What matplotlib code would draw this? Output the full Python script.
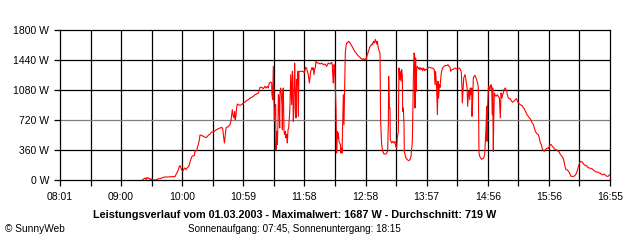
import matplotlib
matplotlib.use("Agg")
import matplotlib.pyplot as plt
import numpy as np

# time in minutes after midnight, power in W
t_min = [561.3, 562.6, 563.5, 564.5, 565.5, 566.4, 567.4, 568.4, 569.4, 570.3, 573.2, 574.8, 576.5, 578.1,
         579.7, 581.3, 583.0, 586.2, 589.4, 592.6, 593.6, 594.9, 595.9, 596.9, 597.5, 598.5, 599.1, 600.1,
         601.1, 601.7, 602.7, 603.3, 604.3, 605.0, 605.9, 606.6, 607.2, 607.9, 608.5, 609.2, 610.4, 611.4,
         611.7, 612.4, 613.7, 614.6, 615.3, 616.3,
         616.9, 618.5, 620.2, 621.8, 623.4, 625.0, 626.6, 628.3, 629.9, 631.5, 633.1, 634.7, 636.3, 638.0,
         639.0, 639.6, 640.6, 641.2, 642.2, 642.8, 644.4, 645.4, 646.1, 647.0, 647.7, 648.3, 649.0, 649.9,
         650.6, 651.2, 651.9, 652.5, 653.2, 654.1, 655.8, 657.4, 659.0, 660.6, 662.2, 663.9, 665.5, 667.1,
         668.7, 670.3, 672.0, 673.6,
         675.2, 676.8, 678.4, 680.0, 681.0, 682.3, 683.3, 684.2, 685.5, 686.5, 686.8, 687.5, 688.1, 688.5,
         689.1, 689.7, 690.4, 690.7, 691.4, 692.0, 692.7, 693.0, 693.6, 694.3, 694.6, 695.2, 695.9, 696.5,
         696.9, 697.2, 697.8, 698.5, 699.1, 699.8, 700.4, 701.1, 701.7, 702.4, 703.0, 703.7, 704.3, 705.0,
         705.3, 705.9, 706.6, 706.9, 707.5, 708.2, 708.8, 709.2, 709.8, 710.1, 710.8, 711.4, 711.7, 712.4,
         713.0, 715.6, 717.3, 718.2, 718.9, 719.5, 720.5, 721.1, 721.8, 722.4, 723.1, 723.7, 724.4, 725.0,
         725.7, 726.3, 727.0, 727.6, 728.3, 728.9, 729.5, 730.8, 732.1, 733.4,
         735.1, 736.7, 738.3, 739.9, 741.5, 743.2, 744.8, 745.4, 745.7, 746.4, 747.0, 747.7, 748.3, 749.0,
         749.3, 749.6, 750.3, 750.9, 751.2, 751.9, 752.5, 753.2, 753.8, 754.5, 754.8, 755.4, 756.1, 756.7,
         757.1, 757.4, 758.0, 758.7, 759.3, 760.0, 761.0, 761.9, 762.6, 763.5, 764.5, 765.8, 767.1, 768.4,
         769.7, 771.0, 772.3, 773.6, 774.9, 775.5, 776.5, 777.5, 778.4, 779.1, 780.0, 781.0, 782.0, 783.0,
         783.9, 784.6, 785.2, 786.2, 787.2, 788.5, 789.1, 790.1, 791.0,
         791.7, 792.3, 793.3, 794.3, 795.6, 797.5, 799.1, 799.8, 800.1, 800.8, 801.4, 801.7, 803.0, 804.0,
         805.3, 806.3, 806.9, 807.9, 808.5, 809.5, 810.1, 810.8, 811.4, 812.1, 812.7, 813.4, 813.7, 814.3,
         815.0, 815.3, 816.0, 816.9, 818.2, 819.5, 820.8, 821.8, 822.4, 823.1, 823.7, 824.1, 824.7, 825.3,
         825.7, 826.3, 826.6, 827.3, 827.9, 828.9, 829.9, 830.5, 831.5, 832.5, 833.1, 834.1, 835.1, 836.0,
         837.0, 838.0, 839.0, 840.2, 841.2, 842.2, 843.5, 844.4, 845.1, 845.7, 846.7, 847.4, 848.0, 848.6,
         849.3,
         850.0, 851.0, 851.9, 852.9, 853.8, 854.8, 855.8, 856.7, 857.7, 858.7, 859.7, 860.3, 861.3, 862.2,
         863.5, 864.8, 866.1, 867.7, 868.7, 870.0, 870.7, 871.3, 871.6, 872.3, 873.0, 873.6, 874.2, 874.9,
         875.5, 876.2, 876.8, 877.5, 878.1, 878.8, 879.4, 880.0, 880.7, 881.0, 881.7, 882.3, 883.0, 883.9,
         884.9, 885.5, 886.5, 887.2, 887.8, 888.5, 889.4, 890.4, 891.4, 892.3, 893.3, 894.0, 894.6, 895.3,
         895.6, 896.2, 896.9, 897.5, 898.2, 898.8, 899.5, 900.1, 900.8, 901.1, 901.7, 902.1, 902.7, 903.3,
         904.3, 905.6, 906.6, 907.6,
         908.5, 909.2, 910.1, 910.8, 911.4, 912.1, 913.1, 914.0, 914.7, 915.3, 916.3, 917.3, 918.2, 919.2,
         920.2, 921.1, 922.1, 923.1, 924.1, 925.0, 926.0, 927.0, 927.9, 928.9, 929.9, 930.9, 931.8, 932.8,
         933.8, 934.7, 935.7, 936.7, 937.6, 938.6, 939.6, 940.6, 941.5, 942.5, 943.5, 944.4, 945.4, 946.4,
         947.4, 948.3, 949.3, 950.3, 951.2, 952.2, 953.2, 954.1, 955.1, 956.1, 957.1, 958.0, 959.0, 960.0,
         960.9, 961.9, 962.9, 963.9, 964.8, 965.8,
         966.5, 967.4, 968.4, 969.4, 970.3, 971.3, 972.3, 973.2, 974.2, 975.2, 976.2, 977.1, 978.1, 979.1,
         980.0, 981.0, 982.0, 983.0, 983.9, 984.9, 985.9, 986.8, 987.8, 988.8, 989.8, 990.7, 991.7, 992.7,
         993.6, 994.6, 995.6, 996.5, 997.5, 998.5, 999.5, 1000.4, 1001.4, 1002.4, 1003.3, 1004.3, 1005.3,
         1006.3, 1007.2, 1008.2, 1009.2, 1010.1, 1011.1, 1012.1, 1013.1, 1014.0, 1015.0]

power_w = [4, 16, 24, 4, 32, 16, 24, 4, 16, 0, 0, 4, 16, 16,
           24, 32, 36, 36, 40, 40, 64, 96, 124, 164, 172, 144, 124, 104,
           124, 144, 136, 124, 144, 152, 164, 184, 216, 244, 264, 284, 292, 292,
           324, 352, 352, 404, 424, 484,
           540, 536, 524, 512, 512, 536, 552, 576, 576, 592, 604, 616, 624, 632,
           616, 544, 444, 504, 624, 632, 640, 656, 664, 712, 784, 844, 776, 744,
           824, 720, 776, 872, 912, 904, 896, 904, 924, 936, 952, 964, 984, 992,
           1004, 1024, 1032, 1044,
           1112, 1112, 1096, 1124, 1104, 1124, 1104, 1164, 1176, 1164, 1024, 964, 1364, 1104,
           724, 824, 904, 364, 584, 424, 704, 1024, 984, 624, 1044, 1104, 1024, 904,
           604, 1024, 1104, 584, 544, 584, 504, 544, 444, 604, 624, 744, 904, 1264,
           1144, 904, 1304, 1224, 704, 864, 1404, 1184, 944, 744, 1204, 1144, 1304, 764,
           1304, 1304, 1304, 1284, 1324, 1352, 1344, 1304, 1284, 1224, 1164, 1224, 1304, 1324,
           1352, 1324, 1344, 1264, 1336, 1344, 1424, 1404, 1404, 1392,
           1404, 1384, 1392, 1364, 1404, 1392, 1412, 1384, 1284, 1164, 1384, 1352, 1104, 844,
           584, 324, 584, 504, 564, 464, 444, 424, 324, 384, 324, 624, 1024, 664,
           944, 1184, 1524, 1604, 1644, 1644, 1664, 1656, 1644, 1624, 1604, 1576, 1544, 1524,
           1504, 1484, 1472, 1456, 1444, 1456, 1444, 1456, 1444, 1496, 1524, 1564, 1604, 1616,
           1632, 1624, 1664, 1644, 1687, 1632, 1664, 1584, 1540,
           1524, 704, 424, 344, 312, 312, 344, 664, 1244, 864, 864, 484, 444, 464,
           444, 464, 404, 384, 504, 584, 1344, 1204, 1304, 1184, 1324, 1244, 824, 864,
           664, 344, 304, 264, 244, 232, 244, 284, 364, 464, 904, 1224, 1524, 1504,
           864, 1464, 1064, 1324, 1364, 1344, 1324, 1352, 1324, 1344, 1312, 1344, 1312, 1328,
           1324, 1344, 1352, 1352, 1344, 1344, 1336, 1324, 1144, 1304, 1104, 784, 1184, 984,
           1144,
           1112, 1264, 1324, 1352, 1364, 1372, 1376, 1372, 1384, 1364, 1352, 1304, 1324, 1324,
           1336, 1344, 1332, 1336, 1344, 1324, 1284, 1104, 924, 1084, 1224, 1244, 1264, 1224,
           1164, 1104, 884, 1024, 1064, 964, 1104, 1024, 1104, 764, 984, 1224, 1244, 1256,
           1224, 1204, 1164, 1104, 324, 284, 264, 248, 256, 264, 304, 464, 624, 884,
           464, 884, 1104, 1124, 1084, 1104, 1144, 1124, 784, 1104, 344, 704, 1044, 1024,
           1004, 1024, 1004, 984,
           744, 1044, 984, 1024, 1044, 1084, 1104, 1084, 1064, 1024, 984, 976, 976, 952,
           936, 936, 952, 964, 976, 952, 924, 912, 904, 896, 892, 864, 856, 824,
           804, 776, 764, 744, 736, 704, 684, 664, 624, 584, 564, 552, 544, 504,
           444, 424, 376, 352, 344, 364, 376, 384, 376, 404, 424, 424, 404, 392,
           376, 364, 364, 352, 344, 336,
           312, 296, 284, 264, 224, 164, 124, 124, 112, 96, 72, 44, 44, 44,
           44, 56, 72, 104, 144, 184, 216, 224, 216, 204, 184, 176, 176, 164,
           152, 144, 144, 136, 136, 124, 112, 104, 96, 96, 96, 84, 84,
           72, 64, 64, 72, 64, 52, 44, 44, 56, 64]

x_start, x_end = 481, 1015
tick_labels = ["08:01", "09:00", "10:00", "10:59", "11:58", "12:58", "13:57", "14:56", "15:56", "16:55"]
y_ticks = [0, 360, 720, 1080, 1440, 1800]
y_labels = ["0 W", "360 W", "720 W", "1080 W", "1440 W", "1800 W"]

title = "Leistungsverlauf vom 01.03.2003 - Maximalwert: 1687 W - Durchschnitt: 719 W"
subtitle = "Sonnenaufgang: 07:45, Sonnenuntergang: 18:15"

plt.rcParams['font.family'] = ['Liberation Sans', 'DejaVu Sans']

fig = plt.figure(figsize=(6.4, 2.4), dpi=100)
ax = fig.add_axes([60/640, 60/240, 550/640, 150/240])

ax.set_xlim(x_start, x_end)
ax.set_ylim(0, 1800)

xt = np.linspace(x_start, x_end, 19)
ax.set_xticks(xt)
labels = []
for i in range(19):
    labels.append(tick_labels[i // 2] if i % 2 == 0 else "")
ax.set_xticklabels(labels)
ax.set_yticks(y_ticks)
ax.set_yticklabels(y_labels)

for x in xt[1:-1]:
    ax.axvline(x, color="black", lw=0.9, zorder=1)
for y in y_ticks[1:-1]:
    ax.axhline(y, color="#808080" if y == 720 else "black", lw=0.9, zorder=1)

ax.plot(t_min, power_w, color="#ff0000", lw=0.8, zorder=3)

for s in ax.spines.values():
    s.set_color("black")
    s.set_linewidth(0.9)
ax.tick_params(axis="both", direction="out", length=4, width=0.9, colors="black", labelsize=7.5)
ax.tick_params(axis="x", pad=5)
ax.tick_params(axis="y", pad=4)

fig.text(294.5/640, 1 - 215.5/240, title, ha="center", va="center", fontsize=7.8, fontweight="bold")
fig.text(294.5/640, 1 - 229.5/240, subtitle, ha="center", va="center", fontsize=7.1)
fig.text(5/640, 1 - 229.5/240, "\u00a9 SunnyWeb", ha="left", va="center", fontsize=7.3)

fig.savefig("out.png", dpi=100, facecolor="white")
